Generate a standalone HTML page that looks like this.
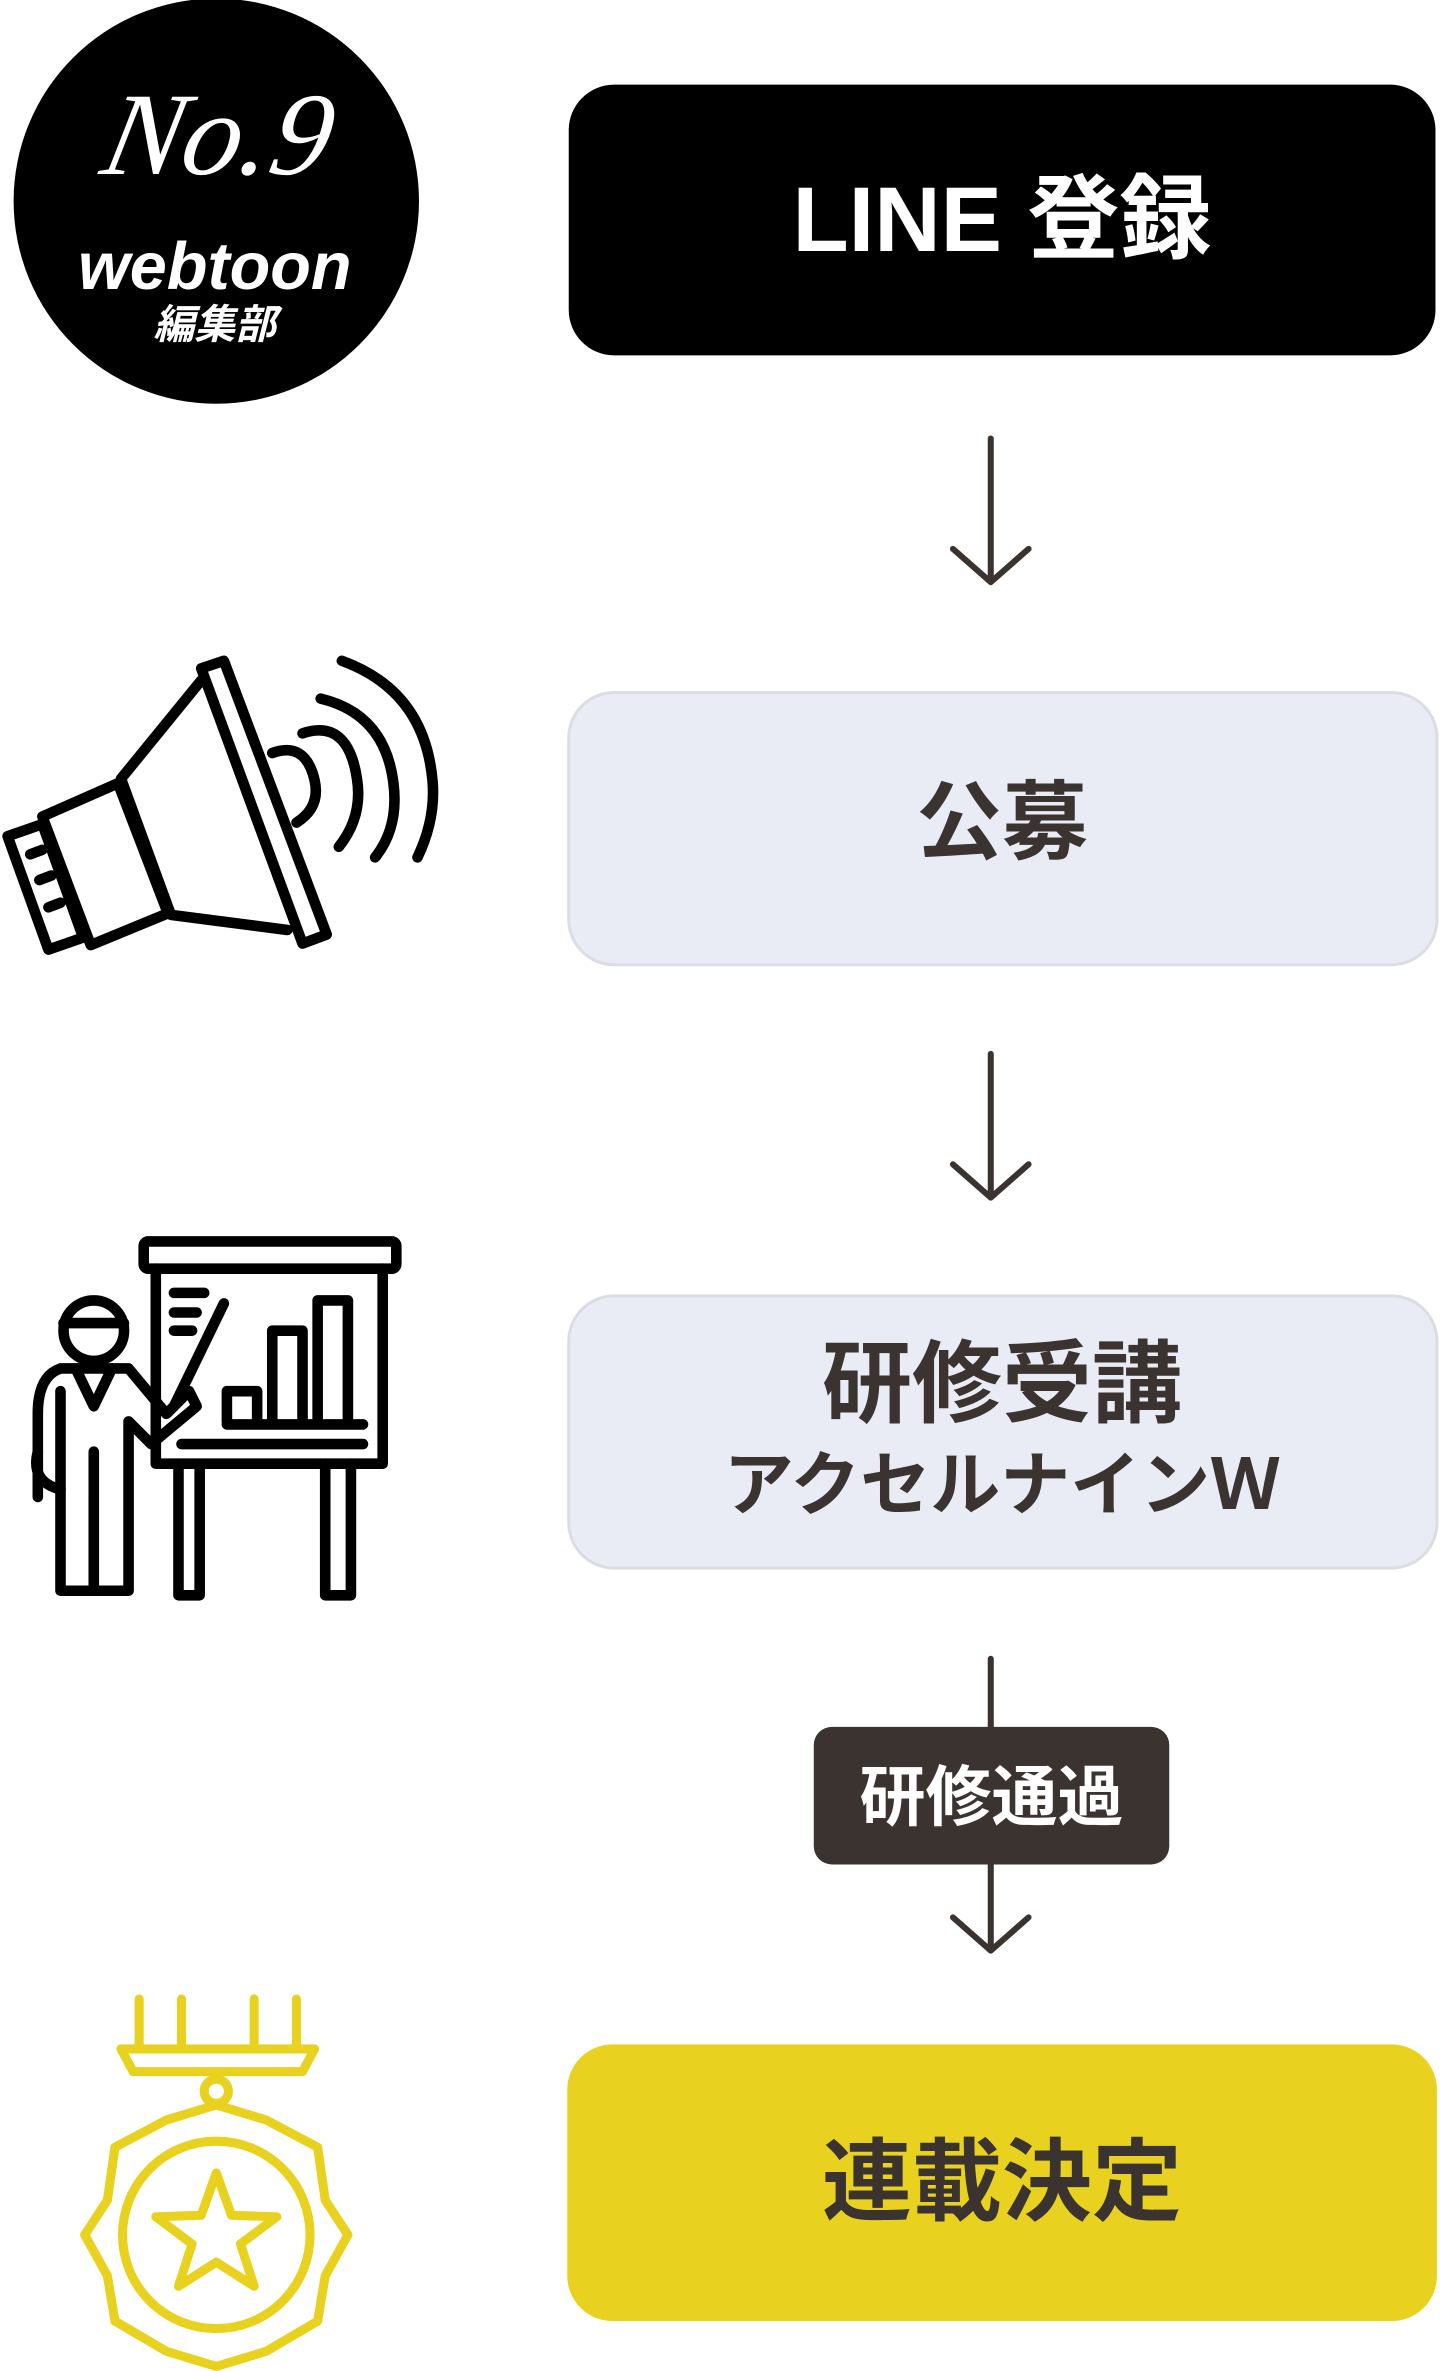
<!DOCTYPE html>
<html><head><meta charset="utf-8"><style>
html,body{margin:0;padding:0;background:#fff;}
body{width:1440px;height:2371px;position:relative;overflow:hidden;font-family:"Liberation Sans","Noto Sans CJK JP",sans-serif;}
svg.bg{position:absolute;left:0;top:0;}
.t{position:absolute;font-weight:bold;white-space:nowrap;}
</style></head><body>
<svg class="bg" width="1440" height="2371" viewBox="0 0 952 1568" preserveAspectRatio="none">
<!-- logo -->
<circle cx="143" cy="133" r="134" fill="#000"/>
<text x="140" y="115" fill="#fff" font-family="Liberation Serif, serif" font-style="italic" font-size="78" text-anchor="middle" transform="skewX(-12) translate(24 0)">No.9</text>
<text x="142" y="191" fill="#fff" font-family="Liberation Sans, sans-serif" font-weight="bold" font-style="italic" font-size="44" text-anchor="middle">webtoon</text>
<text x="142" y="224" fill="#fff" font-family="Noto Sans CJK JP, sans-serif" font-weight="bold" font-style="italic" font-size="27" text-anchor="middle">編集部</text>
<!-- boxes -->
<rect x="376" y="56" width="573" height="179" rx="30" fill="#000"/>
<rect x="376" y="458" width="574" height="180" rx="30" fill="#e9ecf5" stroke="#dcdde2" stroke-width="2"/>
<rect x="376" y="857" width="574" height="180" rx="30" fill="#e9ecf5" stroke="#dcdde2" stroke-width="2"/>
<rect x="375" y="1352" width="575" height="183" rx="30" fill="#e8d21f"/>
<!-- arrows -->
<g stroke="#3a3330" stroke-width="4" fill="none" stroke-linecap="round" stroke-linejoin="round">
<path d="M655 290 V385 M630 363 L655 385 L680 363"/>
<path d="M655 697 V792 M630 770 L655 792 L680 770"/>
<path d="M655 1097 V1145 M655 1230 V1290 M630 1268 L655 1290 L680 1268"/>
</g>
<rect x="538" y="1142" width="235" height="91" rx="12" fill="#3a3330"/>
<!-- megaphone -->
<g stroke="#000" stroke-width="7" fill="none" stroke-linejoin="round" stroke-linecap="round">
<polygon points="133,442 148,437 216,618 200,624"/>
<path d="M133 450 L80 515 L113 605 L190 615"/>
<polygon points="28,540 78,518 111,604 60,625"/>
<polygon points="5,553 28,545 55,620 32,628"/>
<path d="M20 565 l8 -3 M26 582 l8 -3 M32 600 l8 -3"/>
<path d="M180 498 q22 -8 28 18 q4 18 -12 28"/>
<path d="M200 485 q30 -10 36 30 q4 25 -12 45"/>
<path d="M212 462 q42 10 48 55 q4 30 -12 50"/>
<path d="M226 437 q55 20 60 80 q2 25 -10 50"/>
</g>
<!-- presenter -->
<g stroke="#000" stroke-width="7" fill="none" stroke-linejoin="round" stroke-linecap="round">
<rect x="95" y="821" width="167" height="18" rx="3"/>
<path d="M103 839 V968 H253 V839"/>
<path d="M118 968 V1055 H132 V968 M215 968 V1055 H232 V968"/>
<path d="M115 855 h20 M115 868 h15 M115 880 h12"/>
<path d="M150 940 V920 H170 V940 M180 940 V880 H200 V940 M210 940 V860 H230 V940 M150 942 H240 M120 955 H240"/>
<path d="M148 862 L115 930"/>
<circle cx="62" cy="880" r="20"/>
<path d="M42 875 h40"/>
<path d="M40 905 q-15 5 -15 30 V990 M40 905 H85 L110 935 L125 920 L130 930 L100 955 L85 940 V1052 H40 V920"/>
<path d="M62 960 V1052 M50 905 L62 930 L74 905 M25 960 q-5 20 15 25"/>
</g>
<!-- medal -->
<g stroke="#e8d21f" stroke-width="6" fill="none" stroke-linejoin="round" stroke-linecap="round">
<path d="M92 1322 V1352 M120 1322 V1352 M168 1322 V1352 M196 1322 V1352"/>
<path d="M80 1355 H208 L200 1370 H88 Z"/>
<circle cx="143" cy="1383" r="8"/>
<polygon points="143,1392 176,1402 210,1420 215,1455 230,1478 215,1505 210,1535 176,1555 143,1565 110,1555 76,1535 71,1505 56,1478 71,1455 76,1420 110,1402"/>
<circle cx="143" cy="1478" r="62"/>
<polygon points="143,1437 153,1465 183,1466 159,1484 168,1512 143,1496 118,1512 127,1484 103,1466 133,1465"/>
</g>
</svg>
<div class="t" style="left:569px;width:866px;top:165px;text-align:center;font-size:92px;line-height:110px;color:#fff;">LINE 登録</div>
<div class="t" style="left:567px;width:870px;top:768px;text-align:center;font-size:86px;line-height:110px;color:#3a3330;">公募</div>
<div class="t" style="left:567px;width:870px;top:1330px;text-align:center;font-size:90px;line-height:110px;color:#3a3330;">研修受講</div>
<div class="t" style="left:567px;width:870px;top:1440px;text-align:center;font-size:70px;line-height:90px;color:#3a3330;">アクセルナインＷ</div>
<div class="t" style="left:814px;width:355px;top:1752px;text-align:center;font-size:66px;line-height:90px;color:#fff;">研修通過</div>
<div class="t" style="left:567px;width:870px;top:2128px;text-align:center;font-size:90px;line-height:110px;color:#3a3330;">連載決定</div>
</body></html>
